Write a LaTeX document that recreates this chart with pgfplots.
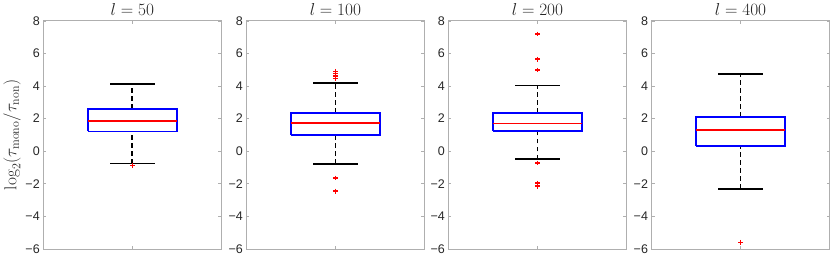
\documentclass[border=0pt]{standalone}
\usepackage[no-math]{fontspec}
\setmainfont{Liberation Sans}
\usepackage{pgfplots}
\pgfplotsset{compat=1.18}
\definecolor{axgray}{RGB}{175,175,175}
\definecolor{lblgray}{RGB}{38,38,38}
\pgfplotsset{
  bpaxis/.style={
    width=178pt, height=228pt, scale only axis,
    xmin=0.5, xmax=1.5, ymin=-6, ymax=8,
    ytick={-6,-4,-2,0,2,4,6,8},
    yticklabels={−6,−4,−2,0,2,4,6,8},
    xtick={1}, xticklabels={},
    tick align=inside, major tick length=3pt,
    axis line style={draw=axgray, line width=0.9pt},
    tick style={draw=axgray, line width=0.7pt},
    yticklabel style={font=\fontsize{12.5}{14}\selectfont, text=lblgray},
    title style={font=\fontsize{17}{19}\selectfont, text=lblgray, yshift=-4pt},
    anchor=south west,
  },
  wh/.style={black, line width=1.7pt, dash pattern=on 4.7pt off 3.3pt},
  cap/.style={black, line width=1.8pt},
  bx/.style={blue, line width=1.6pt, line join=miter},
  md/.style={red, line width=1.5pt},
  ol/.style={only marks, mark=+, red, mark size=2.4pt, line width=1.5pt},
}
\begin{document}
\begin{tikzpicture}
% l = 50
\begin{axis}[bpaxis, at={(42pt,0pt)}, title={$l=50$},
  ylabel={$\log_2(\tau_{\mathrm{mono}}/\tau_{\mathrm{non}})$},
  ylabel style={font=\fontsize{17.5}{19}\selectfont, text=lblgray, yshift=-2pt}]
\addplot[wh] coordinates {(1,2.60) (1,4.11)};
\addplot[wh] coordinates {(1,-0.76) (1,1.21)};
\addplot[bx] coordinates {(0.75,1.21) (1.25,1.21) (1.25,2.60) (0.75,2.60) (0.75,1.21)};
\addplot[md] coordinates {(0.75,1.86) (1.25,1.86)};
\addplot[cap] coordinates {(0.875,4.11) (1.125,4.11)};
\addplot[cap] coordinates {(0.875,-0.76) (1.125,-0.76)};
\addplot[ol] coordinates {(1,-0.88)};
\end{axis}
% l = 100
\begin{axis}[bpaxis, at={(245pt,0pt)}, title={$l=100$}]
\addplot[wh] coordinates {(1,2.35) (1,4.21)};
\addplot[wh] coordinates {(1,-0.79) (1,0.98)};
\addplot[bx] coordinates {(0.75,0.98) (1.25,0.98) (1.25,2.35) (0.75,2.35) (0.75,0.98)};
\addplot[md] coordinates {(0.75,1.72) (1.25,1.72)};
\addplot[cap] coordinates {(0.875,4.21) (1.125,4.21)};
\addplot[cap] coordinates {(0.875,-0.79) (1.125,-0.79)};
\addplot[ol] coordinates {(1,4.90) (1,4.76) (1,4.62) (1,4.47) (1,-1.64) (1,-2.45)};
\end{axis}
% l = 200
\begin{axis}[bpaxis, at={(447pt,0pt)}, title={$l=200$}]
\addplot[wh] coordinates {(1,2.35) (1,4.03)};
\addplot[wh] coordinates {(1,-0.50) (1,1.23)};
\addplot[bx] coordinates {(0.75,1.23) (1.25,1.23) (1.25,2.35) (0.75,2.35) (0.75,1.23)};
\addplot[md] coordinates {(0.75,1.70) (1.25,1.70)};
\addplot[cap] coordinates {(0.875,4.03) (1.125,4.03)};
\addplot[cap] coordinates {(0.875,-0.50) (1.125,-0.50)};
\addplot[ol] coordinates {(1,7.20) (1,5.65) (1,4.99) (1,-0.72) (1,-1.95) (1,-2.15)};
\end{axis}
% l = 400
\begin{axis}[bpaxis, at={(650pt,0pt)}, title={$l=400$}]
\addplot[wh] coordinates {(1,2.11) (1,4.73)};
\addplot[wh] coordinates {(1,-2.31) (1,0.33)};
\addplot[bx] coordinates {(0.75,0.33) (1.25,0.33) (1.25,2.11) (0.75,2.11) (0.75,0.33)};
\addplot[md] coordinates {(0.75,1.29) (1.25,1.29)};
\addplot[cap] coordinates {(0.875,4.73) (1.125,4.73)};
\addplot[cap] coordinates {(0.875,-2.31) (1.125,-2.31)};
\addplot[ol] coordinates {(1,-5.59)};
\end{axis}
\end{tikzpicture}
\end{document}
